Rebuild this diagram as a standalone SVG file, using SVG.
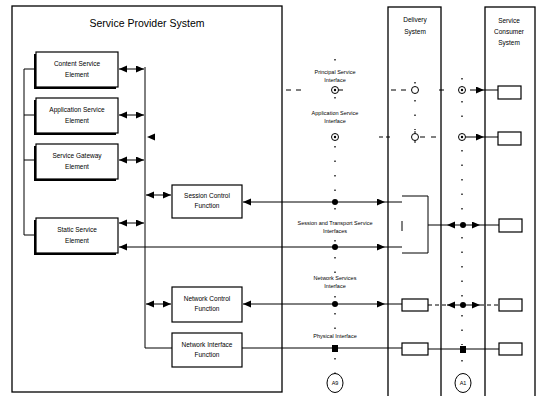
<svg xmlns="http://www.w3.org/2000/svg" width="538" height="396" viewBox="0 0 538 396">
<defs>
<marker id="ah" markerUnits="userSpaceOnUse" markerWidth="9" markerHeight="8" refX="8" refY="3.5" orient="auto-start-reverse"><path d="M0,0 L8,3.5 L0,7 z" fill="#000"/></marker>
<style>
.t{font-family:"Liberation Sans",Arial,sans-serif;fill:#000;text-anchor:middle}
.lb{font-size:6.5px}
.sm{font-size:5.5px}
.box{fill:#fff;stroke:#000;stroke-width:1.2}
.sh{fill:#000}
.ln{stroke:#000;stroke-width:1;fill:none}
.da{stroke:#000;stroke-width:1;fill:none;marker-start:url(#ah);marker-end:url(#ah)}
.ra{stroke:#000;stroke-width:1;fill:none;marker-end:url(#ah)}
.dash{stroke:#000;stroke-width:1;fill:none;stroke-dasharray:5 5}
.dot{stroke:#000;stroke-width:1.3;fill:none;stroke-dasharray:1.5 13}
.sys{fill:none;stroke:#000;stroke-width:1.3}
.oc{fill:#fff;stroke:#000;stroke-width:1}
</style>
</defs>
<rect width="538" height="396" fill="#fff"/>

<g id="service-provider-system">
<rect class="sys" x="12" y="6" width="270" height="386"/>
<text class="t" x="147" y="27" font-size="10.5">Service Provider System</text>
</g>
<g id="delivery-system">
<rect class="sys" x="388" y="7" width="53" height="400"/>
<text class="t lb" x="415" y="22">Delivery</text>
<text class="t lb" x="415" y="34">System</text>
</g>
<g id="service-consumer-system">
<rect class="sys" x="485" y="7" width="50" height="400"/>
<text class="t lb" x="509" y="23">Service</text>
<text class="t lb" x="509" y="34">Consumer</text>
<text class="t lb" x="509" y="45">System</text>
</g>

<g id="content-service-element">
<rect class="sh" x="34" y="54" width="82" height="35"/>
<rect class="box" x="36" y="52" width="82" height="35"/>
<text class="t lb" x="77" y="66">Content Service</text>
<text class="t lb" x="77" y="77">Element</text>
</g>
<g id="application-service-element">
<rect class="sh" x="34" y="100" width="82" height="35"/>
<rect class="box" x="36" y="98" width="82" height="35"/>
<text class="t lb" x="77" y="112">Application Service</text>
<text class="t lb" x="77" y="123">Element</text>
</g>
<g id="service-gateway-element">
<rect class="sh" x="34" y="146" width="82" height="35"/>
<rect class="box" x="36" y="144" width="82" height="35"/>
<text class="t lb" x="77" y="158">Service Gateway</text>
<text class="t lb" x="77" y="169">Element</text>
</g>
<g id="static-service-element">
<rect class="sh" x="34" y="220" width="82" height="35"/>
<rect class="box" x="36" y="218" width="82" height="35"/>
<text class="t lb" x="77" y="232">Static Service</text>
<text class="t lb" x="77" y="243">Element</text>
</g>
<g id="session-control-function">
<rect class="box" x="172" y="185" width="70" height="33"/>
<text class="t lb" x="207" y="198">Session Control</text>
<text class="t lb" x="207" y="208">Function</text>
</g>
<g id="network-control-function">
<rect class="box" x="172" y="287" width="70" height="35"/>
<text class="t lb" x="207" y="301">Network Control</text>
<text class="t lb" x="207" y="311">Function</text>
</g>
<g id="network-interface-function">
<rect class="box" x="172" y="333" width="70" height="34"/>
<text class="t lb" x="207" y="347">Network Interface</text>
<text class="t lb" x="207" y="357">Function</text>
</g>

<g id="delivery-boxes">
<path class="ln" d="M402,196 H428 V253 H402 M402,221 V231" stroke-width="1.2"/>
<rect class="box" x="402" y="299" width="26" height="12"/>
<rect class="box" x="402" y="343" width="26" height="12"/>
</g>
<g id="consumer-boxes">
<rect class="box" x="498" y="86" width="23" height="13"/>
<rect class="box" x="498" y="132" width="23" height="13"/>
<rect class="box" x="499" y="219" width="23" height="13"/>
<rect class="box" x="499" y="299" width="23" height="12"/>
<rect class="box" x="499" y="343" width="23" height="12"/>
</g>

<g id="connectors">
<path class="ln" d="M35,69 H24 V235 H36 M24,115 H36 M24,160 H36"/>
<path class="ln" d="M145,67 V348 H172"/>
<line class="da" x1="119" y1="69" x2="144" y2="69"/>
<line class="da" x1="119" y1="115" x2="144" y2="115"/>
<line class="da" x1="119" y1="160" x2="144" y2="160"/>
<line class="da" x1="119" y1="223" x2="144" y2="223"/>
<line class="da" x1="146" y1="195" x2="171" y2="195"/>
<line class="da" x1="146" y1="304" x2="171" y2="304"/>
<path d="M147,137 L155,133.5 L155,140.5 z" fill="#000"/>

<line class="da" x1="243" y1="202" x2="385" y2="202"/>
<line class="ln" x1="385" y1="202" x2="402" y2="202"/>
<line class="da" x1="119" y1="247" x2="385" y2="247"/>
<line class="ln" x1="385" y1="247" x2="402" y2="247"/>
<line class="da" x1="243" y1="304" x2="385" y2="304"/>
<line class="ln" x1="385" y1="304" x2="402" y2="304"/>
<line class="ln" x1="242" y1="348" x2="402" y2="348" stroke-width="3.5"/>
<line class="ln" x1="428" y1="349" x2="499" y2="349" stroke-width="3.5"/>

<line class="ln" x1="428" y1="225" x2="447" y2="225"/>
<line class="da" x1="447" y1="225" x2="480" y2="225"/>
<line class="ln" x1="480" y1="225" x2="499" y2="225"/>
<line class="ln" x1="428" y1="305" x2="447" y2="305" stroke-dasharray="4 3"/>
<line class="da" x1="447" y1="305" x2="480" y2="305"/>
<line class="ln" x1="480" y1="305" x2="499" y2="305" stroke-dasharray="4 3"/>

<path class="ln" d="M286,90 H291 M296,90 H301 M338,90 H343 M391,90 H396 M401,90 H406 M439,90 H444"/>
<line class="ra" x1="470" y1="90" x2="484" y2="90"/>
<line class="ln" x1="484" y1="90" x2="498" y2="90"/>
<path class="ln" d="M379,137 H383 M386,137 H390 M420,137 H425 M431,137 H436 M466,137 H470"/>
<line class="ra" x1="470" y1="137" x2="484" y2="137"/>
<line class="ln" x1="484" y1="137" x2="498" y2="137"/>

<path class="dot" d="M335,59 V64 M335,97 V109 M335,146 V198 M335,208 V218 M335,240 V244 M335,257 V273 M335,296 V300 M335,313 V330 M335,358 V374"/>
<path class="dot" d="M415,82 V86 M415,100 V130"/>
<path class="dot" d="M462,78 V86 M462,101 V130 M462,150 V220 M462,237 V300 M462,315 V345 M462,360 V374"/>

<circle class="oc" cx="335" cy="90" r="3.5"/>
<circle cx="335" cy="90" r="1.2" fill="#000"/>
<circle class="oc" cx="415" cy="90" r="3.5"/>
<circle class="oc" cx="462" cy="90" r="3.5"/>
<circle cx="462" cy="90" r="1.2" fill="#000"/>
<circle class="oc" cx="335" cy="137" r="3.5"/>
<circle cx="335" cy="137" r="1.2" fill="#000"/>
<circle class="oc" cx="415" cy="137" r="3.5"/>
<path class="ln" d="M415,131 V133.5 M415,140.5 V143"/>
<circle class="oc" cx="462" cy="137" r="3.5"/>
<circle cx="462" cy="137" r="1.2" fill="#000"/>

<circle cx="335" cy="202" r="3" fill="#000"/>
<circle cx="335" cy="247" r="3" fill="#000"/>
<circle cx="335" cy="304" r="3" fill="#000"/>
<rect x="332" y="345" width="6" height="7" fill="#000"/>
<circle cx="463" cy="225" r="3" fill="#000"/>
<circle cx="463" cy="305" r="3" fill="#000"/>
<rect x="460" y="346" width="6" height="7" fill="#000"/>
</g>

<g id="interface-labels">
<text class="t sm" x="335" y="74">Principal Service</text>
<text class="t sm" x="335" y="82">Interface</text>
<text class="t sm" x="335" y="115">Application Service</text>
<text class="t sm" x="335" y="123">Interface</text>
<text class="t sm" x="335" y="225">Session and Transport Service</text>
<text class="t sm" x="335" y="233">Interfaces</text>
<text class="t sm" x="335" y="280">Network Services</text>
<text class="t sm" x="335" y="288">Interface</text>
<text class="t sm" x="335" y="338">Physical Interface</text>
</g>

<g id="ref-point-a9">
<ellipse cx="335" cy="383" rx="8" ry="9.5" fill="#fff" stroke="#000"/>
<text class="t sm" x="335" y="385">A9</text>
</g>
<g id="ref-point-a1">
<ellipse cx="463" cy="383" rx="8" ry="9.5" fill="#fff" stroke="#000"/>
<text class="t sm" x="463" y="385">A1</text>
</g>
</svg>
